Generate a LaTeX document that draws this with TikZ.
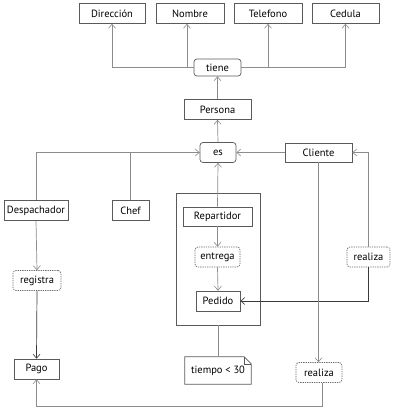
\documentclass[tikz,border=0pt]{standalone}
\usepackage{fontspec}
\setmainfont{PT Sans}
\usetikzlibrary{arrows.meta,calc}
\definecolor{lgray}{HTML}{8C8C8C}
\definecolor{dgray}{HTML}{3A3A3A}
\definecolor{bgray}{HTML}{5A5A5A}
\definecolor{dashgray}{HTML}{6A6A6A}
\begin{document}
\begin{tikzpicture}[x=1pt,y=-1pt,
  font=\fontsize{10.5}{12}\selectfont,
  box/.style={draw=bgray,line width=0.7pt,minimum height=20pt,inner sep=1pt},
  rbox/.style={box,rounded corners=3pt},
  dbox/.style={draw=dashgray,dash pattern=on 1.3pt off 1pt,line width=0.7pt,rounded corners=3pt,minimum height=20pt,inner sep=1pt},
  conn/.style={draw=lgray,line width=0.7pt},
  dconn/.style={draw=dgray,line width=0.7pt},
  arr/.style={-{Straight Barb[length=4pt,width=7pt,line width=0.6pt]}},
]
\useasboundingbox (0,0) rectangle (400,413);
% top attributes
\node[box,minimum width=66pt] (dir) at (112,13.5) {Dirección};
\node[box,minimum width=68pt] (nom) at (190,13.5) {Nombre};
\node[box,minimum width=68pt] (tel) at (268,13.5) {Telefono};
\node[box,minimum width=67pt] (ced) at (345.5,13.5) {Cedula};
\node[rbox,minimum width=47pt,minimum height=17pt] (tiene) at (217.5,67.5) {tiene};
\node[box,minimum width=67pt] (per) at (217.5,109.5) {Persona};
\node[rbox,minimum width=36pt] (es) at (218,152.5) {es};
\node[box,minimum width=67pt,minimum height=19pt] (cli) at (318.5,152.5) {Cliente};
\node[box,minimum width=64pt] (desp) at (36,210.5) {Despachador};
\node[box,minimum width=37pt] (chef) at (130.5,210.5) {Chef};
\node[draw=bgray,line width=0.7pt,minimum width=84pt,minimum height=132pt] (frame) at (218,259) {};
\node[box,minimum width=69pt,minimum height=19pt] (rep) at (217.5,216.5) {Repartidor};
\node[dbox,minimum width=45pt] (ent) at (217.5,257) {entrega};
\node[box,minimum width=44pt] (ped) at (218,301) {Pedido};
\node[minimum width=66pt,minimum height=27pt,inner sep=1pt] (tiem) at (218,370.5) {tiempo < 30};
\draw[draw=bgray,line width=0.7pt] (tiem.north west) -- ($(tiem.north east)+(-7,0)$) -- ($(tiem.north east)+(0,7)$) -- (tiem.south east) -- (tiem.south west) -- cycle;
\draw[draw=bgray,line width=0.5pt] ($(tiem.north east)+(-7,0)$) -- ($(tiem.north east)+(-7,7)$) -- ($(tiem.north east)+(0,7)$);
\node[dbox,minimum width=48pt] (reg) at (37,280.5) {registra};
\node[box,minimum width=45pt] (pago) at (36.5,369) {Pago};
\node[dbox,minimum width=43pt] (rea1) at (368.5,257) {realiza};
\node[dbox,minimum width=46pt] (rea2) at (319,372.5) {realiza};
\coordinate (low) at (322,406);
\coordinate (r2) at ($(rea2.south)+(3,0)$);
\coordinate (nomin) at ($(nom.south)+(-3,0)$);
% connectors
\draw[conn,arr] (tiene.west) -| (dir.south);
\draw[conn,arr] (tiene.west) -| (nomin);
\draw[conn,arr] (tiene.east) -| (tel.south);
\draw[conn,arr] (tiene.east) -| (ced.south);
\draw[conn,arr] (per.north) -- (tiene.south);
\draw[conn,arr] (es.north) -- (per.south);
\draw[conn,arr] (desp.north) |- (es.west);
\draw[conn] (chef.north) |- (es.west);
\draw[conn,arr] (cli.west) -- (es.east);
\draw[conn,arr] (rep.north) -- (es.south);
\draw[conn,arr] (rep.south) -- (ent.north);
\draw[conn,arr] (ent.south) -- (ped.north);
\draw[conn,arr] (rea1.north) |- (cli.east);
\draw[dconn,arr] (rea1.south) |- (ped.east);
\draw[conn,arr] (desp.south) -- (reg.north);
\draw[dconn,arr] (reg.south) -- (pago.north);
\draw[conn,arr] (cli.south) -- (cli.south |- rea2.north);
\draw[conn,arr] (r2) -- (r2 |- low) -| (pago.south);
\draw[conn] (frame.south) -- (tiem.north);
\end{tikzpicture}
\end{document}
